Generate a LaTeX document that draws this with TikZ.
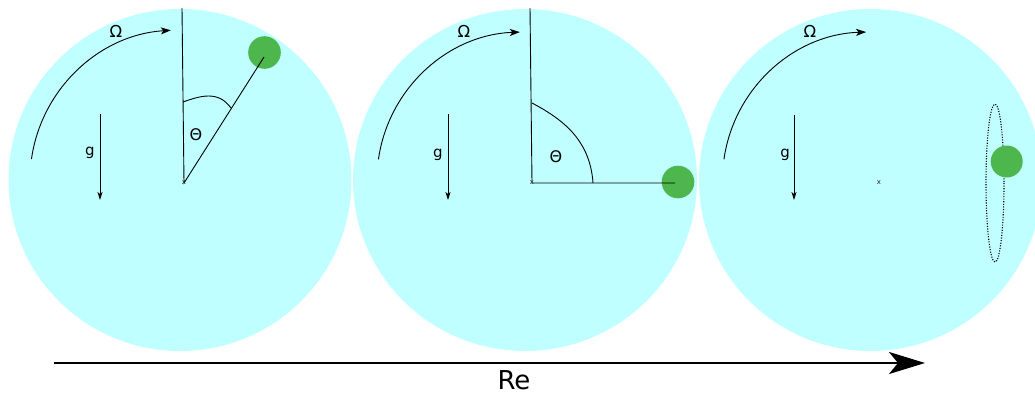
\documentclass[tikz,border=0pt]{standalone}
\usepackage{fontspec}
\setmainfont{DejaVu Sans}
\usetikzlibrary{arrows.meta}
\definecolor{disk}{RGB}{192,255,255}
\definecolor{ball}{RGB}{77,182,77}
\tikzset{
  disk/.style={fill=disk,draw=none},
  ballst/.style={fill=ball,draw=none},
  thin line/.style={draw=black,line width=0.9pt},
  omega arrow/.style={draw=black,line width=0.9pt,-{Stealth[length=10pt,width=7pt,inset=2.5pt]}},
  g arrow/.style={draw=black,line width=0.8pt,-{Stealth[length=8pt,width=5pt,inset=2pt]}},
  lbl/.style={inner sep=0pt,font=\fontsize{16.5}{16.5}\selectfont},
  thlbl/.style={inner sep=0pt,font=\fontsize{16}{16}\selectfont},
  glbl/.style={inner sep=0pt,font=\fontsize{15}{15}\selectfont},
  cmark/.style={inner sep=0pt,font=\fontsize{7}{7}\selectfont,text=black!85},
}
\begin{document}
\begin{tikzpicture}[x=1pt,y=-1pt]
\useasboundingbox (0,0) rectangle (1035,396);
% disks
\fill[disk] (180,180) ellipse [x radius=171.5,y radius=171];
\fill[disk] (525,180) ellipse [x radius=172,y radius=171];
\fill[disk] (870.5,180) ellipse [x radius=171.5,y radius=171];

% ---- disk 1 ----
\draw[omega arrow] (180,180) ++(-172:150) arc[start angle=-172,end angle=-93.5,radius=150];
\node[lbl] (om1) at (116,31) {Ω};
\coordinate (g1a) at (100,114); \coordinate (g1b) at (100,200);
\draw[g arrow] (g1a) -- (g1b);
\node[glbl] (g1) at (90,153) {g};
\fill[ballst] (264.5,52.5) circle (16.3);
\coordinate (c1) at (184,183);
\coordinate (t1) at (182,8);
\coordinate (b1) at (264,57);
\draw[thin line] (t1) -- (c1) -- (b1);
\draw[thin line] (183,102) .. controls (200,96) and (218,90) .. (231,108);
\node[thlbl] (th1) at (196,135) {Θ};
\node[cmark] (x1) at (c1) {x};

% ---- disk 2 ----
\draw[omega arrow] (525,180) ++(-172:148) arc[start angle=-172,end angle=-92,radius=148];
\node[lbl] (om2) at (464,31) {Ω};
\coordinate (g2a) at (448,114); \coordinate (g2b) at (448,200);
\draw[g arrow] (g2a) -- (g2b);
\node[glbl] (g2) at (438,155) {g};
\fill[ballst] (678,182) circle (16.3);
\coordinate (c2) at (532,183);
\coordinate (t2) at (530,8);
\coordinate (b2) at (675,183);
\draw[thin line] (t2) -- (c2) -- (b2);
\draw[thin line] (532,103) .. controls (560,118) and (590,138) .. (593,183);
\node[thlbl] (th2) at (556,157) {Θ};
\node[cmark] (x2) at (c2) {x};

% ---- disk 3 ----
\draw[omega arrow] (870.5,180) ++(-172:148) arc[start angle=-172,end angle=-91.7,radius=148];
\node[lbl] (om3) at (810,31) {Ω};
\coordinate (g3a) at (794,115); \coordinate (g3b) at (794,200);
\draw[g arrow] (g3a) -- (g3b);
\node[glbl] (g3) at (785,155) {g};
\node[cmark] (x3) at (879,183) {x};
\draw[line width=1.1pt,dash pattern=on 1.1pt off 1.5pt] (995,183) ellipse [x radius=9,y radius=79];
\fill[ballst] (1006.7,161.5) circle (16);

% ---- Re axis ----
\coordinate (ra) at (54,363);
\coordinate (rb) at (925,363);
\draw[line width=2.5pt,-{Stealth[length=36pt,width=22pt,inset=9pt]}] (ra) -- (rb);
\node[inner sep=0pt,font=\fontsize{26}{26}\selectfont] (re) at (514,380.5) {Re};
\end{tikzpicture}
\end{document}
